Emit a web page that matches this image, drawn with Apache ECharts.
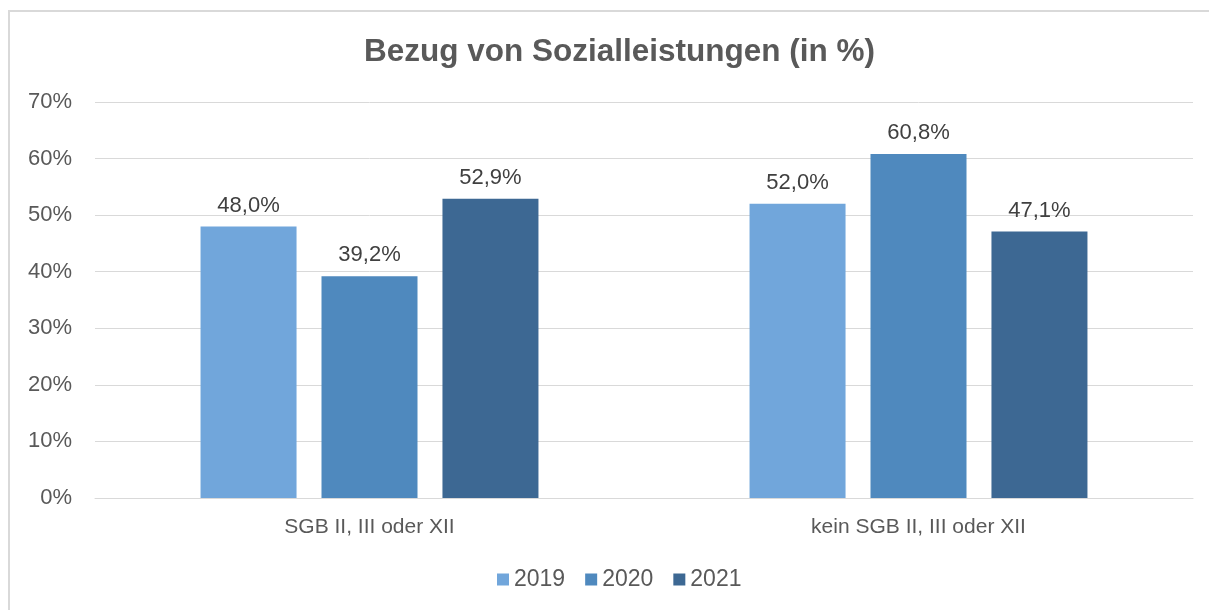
<!DOCTYPE html>
<html><head><meta charset="utf-8">
<script src="https://cdn.jsdelivr.net/npm/echarts@6/dist/echarts.min.js"></script>
<style>html,body{margin:0;padding:0;background:#fff}#c{width:1209px;height:610px}</style>
</head><body><div id="c"></div>
<script>
const categories = ['SGB II, III oder XII', 'kein SGB II, III oder XII'];
const years = ['2019', '2020', '2021'];
const v2019 = [48.0, 52.0];
const v2020 = [39.2, 60.8];
const v2021 = [52.9, 47.1];
const colors = ['#71A6DB', '#4F89BE', '#3D6893'];
const seriesValues = [v2019, v2020, v2021];

const chart = echarts.init(document.getElementById('c'));
const fmt = v => v.toFixed(1).replace('.', ',') + '%';
chart.setOption({
  animation: false,
  graphic: [{type: 'rect', shape: {x: 9, y: 11, width: 1300, height: 700}, style: {fill: 'none', stroke: '#d9d9d9', lineWidth: 2}, silent: true}],
  title: {text: 'Bezug von Sozialleistungen (in %)', left: 359, top: 31,
    textStyle: {fontFamily: 'Liberation Sans, Arial', fontWeight: 'bold', fontSize: 31.5, color: '#595959'}},
  legend: {bottom: 14, left: 492, itemWidth: 12, itemHeight: 12, itemGap: 20,
    textStyle: {fontFamily: 'Liberation Sans, Arial', fontSize: 23, color: '#595959'},
    data: years.map((y, i) => ({name: y, icon: 'rect'}))},
  grid: {left: 95, right: 16, top: 102, bottom: 112, containLabel: false},
  xAxis: {type: 'category', data: categories,
    axisLine: {lineStyle: {color: '#d9d9d9'}}, axisTick: {show: false},
    axisLabel: {fontFamily: 'Liberation Sans Narrow, Arial Narrow, Liberation Sans', fontSize: 21, color: '#595959', margin: 19}},
  yAxis: {type: 'value', min: 0, max: 70, interval: 10,
    axisLabel: {formatter: '{value}%', fontFamily: 'Liberation Sans, Arial', fontSize: 22, color: '#595959', margin: 23},
    splitLine: {lineStyle: {color: '#d9d9d9'}}, axisLine: {show: false}, axisTick: {show: false}},
  series: seriesValues.map((d, i) => ({
    name: years[i], type: 'bar', data: d, barWidth: 96, barGap: '26%',
    itemStyle: {color: colors[i]},
    label: {show: true, position: 'top', distance: 10, formatter: p => fmt(p.value),
      fontFamily: 'Liberation Sans, Arial', fontSize: 22, color: '#404040'}
  }))
});
</script></body></html>
